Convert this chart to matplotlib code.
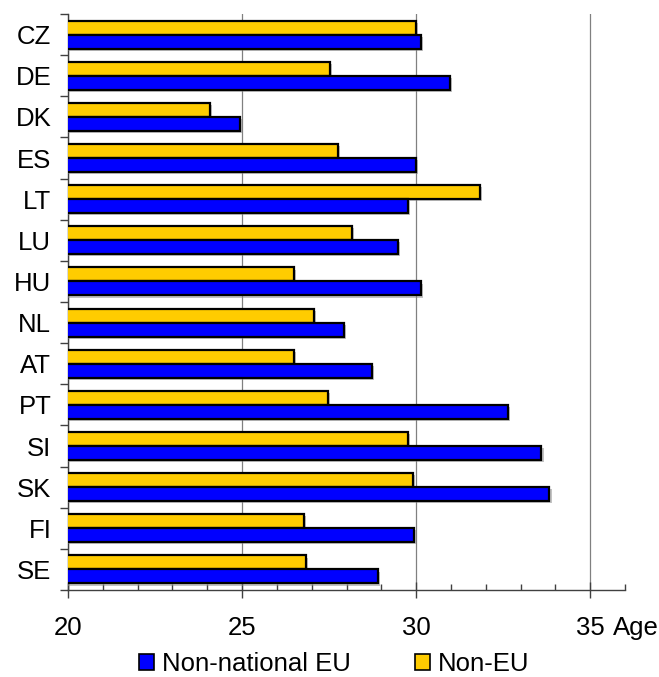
import numpy as np
import matplotlib.pyplot as plt
from matplotlib import patheffects
from matplotlib.patches import Patch

countries = ["CZ", "DE", "DK", "ES", "LT", "LU", "HU", "NL", "AT", "PT", "SI", "SK", "FI", "SE"]
non_national_eu = [30.15, 30.97, 24.94, 30.0, 29.77, 29.48, 30.15, 27.93, 28.73, 32.63, 33.6, 33.83, 29.93, 28.9]
non_eu = [30.0, 27.52, 24.07, 27.75, 31.83, 28.15, 26.5, 27.07, 26.5, 27.47, 29.76, 29.92, 26.78, 26.83]

BLUE = "#0000FF"
YELLOW = "#FFCC00"

plt.rcParams["font.family"] = ["Liberation Sans", "DejaVu Sans"]
plt.rcParams["font.size"] = 18.5

fig = plt.figure(figsize=(6.59, 6.77), dpi=100)
ax = fig.add_axes([68 / 659, 87 / 677, 557 / 659, 576 / 677])

y = np.arange(len(countries))
h = 0.34
shadow = [patheffects.SimplePatchShadow(offset=(1.5, -1.5), shadow_rgbFace="#888888", alpha=0.5),
          patheffects.Normal()]

b1 = ax.barh(y - h / 2, non_eu, height=h, color=YELLOW, edgecolor="black", linewidth=1.6, zorder=3)
b2 = ax.barh(y + h / 2, non_national_eu, height=h, color=BLUE, edgecolor="black", linewidth=1.6, zorder=3)
for bar in list(b1) + list(b2):
    bar.set_path_effects(shadow)

ax.set_xlim(20, 36)
ax.set_ylim(len(countries) - 0.5, -0.5)

# x axis: long crossing ticks every 5, short inner ticks every year
ax.set_xticks([20, 25, 30, 35])
ax.set_xticks(np.arange(20, 37, 1), minor=True)
ax.tick_params(axis="x", which="major", direction="inout", length=11, width=1, color="#404040", pad=13)
ax.tick_params(axis="x", which="minor", direction="in", length=4.5, width=1, color="#404040")

# y axis: labels on the categories, tick marks on the boundaries
ax.set_yticks(y)
ax.set_yticklabels(countries)
ax.set_yticks(np.arange(-0.5, len(countries), 1), minor=True)
ax.tick_params(axis="y", which="major", length=0, pad=12)
ax.tick_params(axis="y", which="minor", direction="out", length=6, width=1, color="#404040")

for side in ["top", "right"]:
    ax.spines[side].set_visible(False)
for side in ["left", "bottom"]:
    ax.spines[side].set_color("#404040")
    ax.spines[side].set_linewidth(1)

ax.grid(axis="x", which="major", color="#808080", linewidth=0.9)
ax.set_axisbelow(True)

fig.text(613 / 659, 1 - 628 / 677, "Age", ha="left", va="center")

handles = [Patch(facecolor=BLUE, edgecolor="black", linewidth=1.2),
           Patch(facecolor=YELLOW, edgecolor="black", linewidth=1.2)]
fig.legend(handles, ["Non-national EU", "Non-EU"], loc="center", bbox_to_anchor=(0.507, 1 - 664 / 677),
           ncol=2, frameon=False, handlelength=0.6, handleheight=0.6, handletextpad=0.3,
           columnspacing=2.5, borderpad=0)

fig.savefig("out.png", dpi=100)
